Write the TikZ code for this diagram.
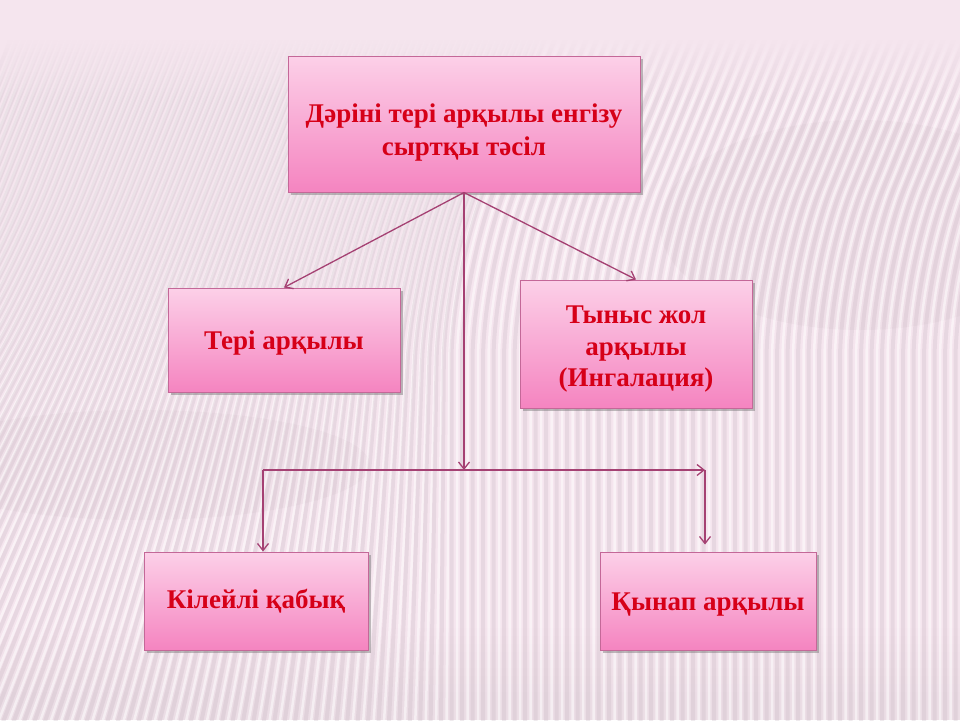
\documentclass[tikz,border=0pt]{standalone}
\usepackage{fontspec}
\setmainfont{Liberation Serif}
\usetikzlibrary{arrows.meta,shadows,calc}
\definecolor{bgpink}{RGB}{245,229,238}
\definecolor{stripe}{RGB}{190,172,184}
\definecolor{boxtop}{RGB}{252,208,232}
\definecolor{boxbot}{RGB}{245,132,192}
\definecolor{boxline}{RGB}{196,104,152}
\definecolor{linkc}{RGB}{165,65,115}
\definecolor{txtred}{RGB}{214,0,24}
\tikzset{
  box/.style={rectangle, draw=boxline, line width=1pt, top color=boxtop, bottom color=boxbot,
    drop shadow={shadow xshift=3pt, shadow yshift=-3pt, opacity=0.45, fill=black!55}},
  boxtext/.style={align=center, text=txtred, inner sep=0pt,
    font=\fontsize{27}{31}\selectfont\bfseries},
  link/.style={draw=linkc, line width=1.3pt},
  arr/.style={link, -{Straight Barb[length=7pt, width=11pt, line width=1.3pt]}}
}
\begin{document}
\begin{tikzpicture}[x=1pt, y=-1pt]
\useasboundingbox (0,0) rectangle (960,720);
% background
\fill[bgpink] (0,0) rectangle (960,720);
\fill[gray, opacity=0.05] (860,225) ellipse (200 and 105);
\fill[gray, opacity=0.05] (140,465) ellipse (230 and 55);
\foreach \j in {0,...,9}{
  \fill[gray, opacity=0.008*\j] (0,620+8*\j) rectangle (960,628+8*\j);
}
\fill[gray, opacity=0.08] (0,700) rectangle (960,720);
\foreach \i in {-40,...,100}{
  \pgfmathsetmacro{\xb}{\i*10.5}
  \pgfmathsetmacro{\kl}{max(0,0.38*(1-\xb/450))}
  \pgfmathsetmacro{\xm}{\xb+\kl*460}
  \pgfmathsetmacro{\xt}{\xm+0.42*230}
  \draw[stripe, line width=4pt, opacity=0.24, rounded corners=90pt] (\xb,730) -- (\xm,270) -- (\xt,30);
  \draw[white, line width=2.5pt, opacity=0.5, rounded corners=90pt] (\xb+5.5,730) -- (\xm+5.5,270) -- (\xt+5.5,30);
}
\foreach \j in {0,...,15}{
  \fill[bgpink, opacity={1-\j/16}] (0,36+4*\j) rectangle (960,40+4*\j);
}
\fill[bgpink] (0,0) rectangle (960,36);
% boxes
\node[box, minimum width=352pt, minimum height=136pt] (top) at (464,124) {};
\node[box, minimum width=232pt, minimum height=104pt] (skin) at (284,340) {};
\node[box, minimum width=232pt, minimum height=128pt] (resp) at (636,344) {};
\node[box, minimum width=224pt, minimum height=98pt] (muc) at (256,601) {};
\node[box, minimum width=216pt, minimum height=98pt] (vag) at (708,601) {};
% texts
\node[boxtext, font=\fontsize{27}{33}\selectfont\bfseries] (toptext) at ($(top.center)+(0,9)$) {Дәріні тері арқылы енгізу\\сыртқы тәсіл};
\node[boxtext] (skintext) at ($(skin.center)+(0,3)$) {Тері арқылы};
\node[boxtext, font=\fontsize{27}{31.5}\selectfont\bfseries] (resptext) at ($(resp.center)+(0,5.5)$) {Тыныс жол\\арқылы\\(Ингалация)};
\node[boxtext] (muctext) at ($(muc.center)+(0,0)$) {Кілейлі қабық};
\node[boxtext] (vagtext) at ($(vag.center)+(0,4)$) {Қынап арқылы};
% connectors
\coordinate (j) at (464,470);
\coordinate (jl) at (263,470);
\coordinate (jr) at (705,470);
\draw[arr] (top.south) -- (skin.north);
\draw[arr] (top.south) -- (resp.north);
\draw[arr] (top.south) -- (j);
\draw[arr] (jl) -- (jr);
\draw[arr] (jl) -- (jl |- muc.north);
\draw[arr] (jr) -- ($(jr |- vag.north)+(0,-7)$);
\end{tikzpicture}
\end{document}
